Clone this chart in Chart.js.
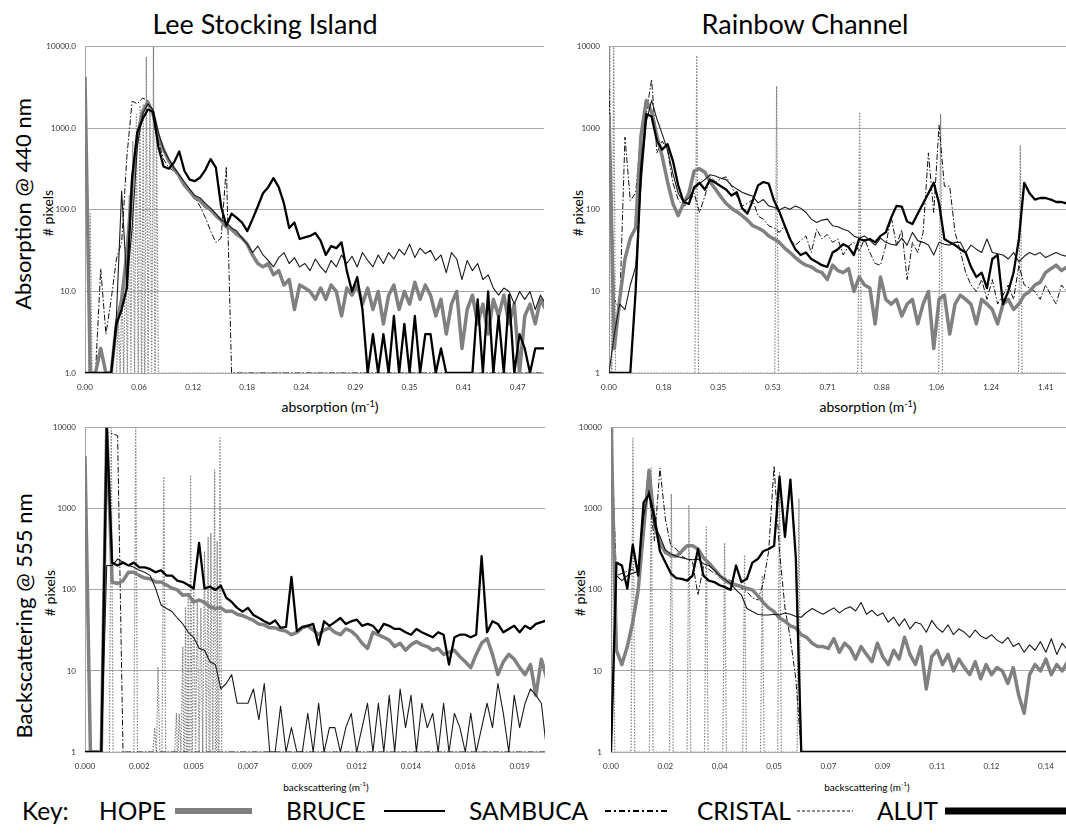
<!DOCTYPE html>
<html><head><meta charset="utf-8">
<script src="https://cdn.jsdelivr.net/npm/chart.js@4.4.1/dist/chart.umd.min.js"></script>
<style>
body{margin:0;background:#fff;width:1066px;height:833px;overflow:hidden;position:relative;font-family:Lato,"Open Sans",sans-serif;color:#000;}
.t{position:absolute;white-space:nowrap;line-height:1;}
.c{transform:translate(-50%,-50%);}
.r{transform:translate(-50%,-50%) rotate(-90deg);}
.k{font-size:24.5px;top:799px;}
canvas{position:absolute;}
sup{font-size:65%;vertical-align:top;position:relative;top:-0.1em;}
</style></head><body>
<div class="t c" style="left:265px;top:23px;font-size:27px">Lee Stocking Island</div>
<div class="t c" style="left:805px;top:23px;font-size:27px">Rainbow Channel</div>
<div class="t r" style="left:23px;top:204px;font-size:22px">Absorption @ 440 nm</div>
<div class="t r" style="left:24px;top:616px;font-size:22px">Backscattering @ 555 nm</div>
<div class="t r" style="left:48px;top:213px;font-size:14px"># pixels</div>
<div class="t r" style="left:578px;top:213px;font-size:14px"># pixels</div>
<div class="t r" style="left:50px;top:593px;font-size:14px"># pixels</div>
<div class="t r" style="left:580px;top:593px;font-size:14px"># pixels</div>
<div class="t c" style="left:330px;top:407px;font-size:14px">absorption (m<sup>-1</sup>)</div>
<div class="t c" style="left:868px;top:407px;font-size:14px">absorption (m<sup>-1</sup>)</div>
<div class="t c" style="left:326px;top:787px;font-size:10px">backscattering (m<sup>-1</sup>)</div>
<div class="t c" style="left:867px;top:787px;font-size:10px">backscattering (m<sup>-1</sup>)</div>

<div class="t k" style="left:22px">Key:</div>
<div class="t k" style="left:99px">HOPE</div>
<div class="t k" style="left:286px">BRUCE</div>
<div class="t k" style="left:469px">SAMBUCA</div>
<div class="t k" style="left:697px">CRISTAL</div>
<div class="t k" style="left:877px">ALUT</div>
<svg style="position:absolute;left:0;top:795px" width="1066" height="30">
<line x1="175" y1="16" x2="252" y2="16" stroke="#808080" stroke-width="6"/>
<line x1="384" y1="16" x2="445" y2="16" stroke="#000" stroke-width="2"/>
<line x1="605" y1="16" x2="670" y2="16" stroke="#000" stroke-width="2" stroke-dasharray="6,3,2,3"/>
<line x1="797" y1="16" x2="853" y2="16" stroke="#888" stroke-width="2" stroke-dasharray="3,2"/>
<line x1="945" y1="16" x2="1066" y2="16" stroke="#000" stroke-width="7"/>
</svg>

<canvas id="tl"></canvas>
<canvas id="tr"></canvas>
<canvas id="bl"></canvas>
<canvas id="br"></canvas>

<script>
// ---------- tick labels ----------
const yTicksTL = ['1.0','10.0','100.0','1000.0','10000.0'];
const yTicks = ['1','10','100','1000','10000'];
const yTickValues = [1,10,100,1000,10000];
const xTicksTL = ['0.00','0.06','0.12','0.18','0.24','0.29','0.35','0.41','0.47'];
const xTicksTR = ['0.00','0.18','0.35','0.53','0.71','0.88','1.06','1.24','1.41'];
const xTicksBL = ['0.000','0.002','0.005','0.007','0.009','0.012','0.014','0.016','0.019'];
const xTicksBR = ['0.00','0.02','0.04','0.05','0.07','0.09','0.11','0.12','0.14'];
const xTickBins = [0,30,60,90,120,150,180,210,240];

// ---------- Lee Stocking Island, absorption (bin step 2.904) ----------
const tlHope = [4300,1,1,2,1,1,4,8,30,200, 800,1600,2100,1500,800,550,400,320,260,200,
 170,140,130,110,100,85,75,62,58,50, 45,38,28,22,20,22,16,18,12,14,
 6,12,11,10,8,11,8,12,10,5, 11,9,12,7,11,6,10,4,9,12,
 6,10,7,13,8,12,9,5,8,3, 7,10,2,6,9,4,7,3,8,5, 9,4,7,1,5,7,4,8,6];
const tlBruce = [1,1,1,1,1,1,5,170,12,60, 600,1500,2000,1700,900,550,420,330,270,220,
 180,150,140,120,105,90,75,70,60,55, 45,38,30,36,28,24,20,26,30,22,
 26,20,22,18,25,20,17,24,20,28, 22,27,20,30,24,20,28,22,30,25,
 33,28,38,26,34,29,32,24,28,17, 30,25,14,24,18,22,14,16,11,9, 11,10,7,10,8,10,6,9,7];
const tlAlut = [1,1,1,1,1,1,4,6,11,250, 900,1300,1700,1600,600,340,320,380,520,300,
 235,225,250,310,420,330,110,64,90,80, 70,55,77,110,160,190,245,190,120,60,
 70,44,46,48,52,42,28,36,34,40, 18,10,15,6,1,3,1,3,1,5,
 1,4,1,5,1,3,3,1,2,1, 1,1,1,1,1,8,1,10,1,5, 1,9,1,3,2,1,2,2,2];
const tlSambuca = [1,1,1,19,3,8,25,40,450,2150, 2000,2350,2200,1500,700,420,330,300,250,200,
 160,140,110,80,55,40,45,340,1,1, 1,1,1,1,1,1,1,1,1,1,
 1,1,1,1,1,1,1,1,1,1, 1,1,1,1,1,1,1,1,1,1,
 1,1,1,1,1,1,1,1,1,1, 1,1,1,1,1,1,1,1,1,1, 1,1,1,1,1,1,1,1,1];
const tlCristalBins = [2.9,18.5,20.5,22.5,24.5,26.5,28.5,30.5,32.3,34,36,38,39.7];
const tlCristalPeaks = [90,5,10,35,150,700,1500,1900,2000,7500,2000,10000,1200];

// ---------- Rainbow Channel, absorption (bin step 2.925) ----------
const trHope = [1500,2,8,25,45,60,800,2200,1600,800, 450,220,120,85,120,160,300,320,290,220,
 180,145,120,105,95,85,75,64,60,55, 48,44,40,34,30,26,23,21,20,18,
 17,14,21,18,17,19,10,15,12,11, 4,15,8,7,8,5,7,8,4,7,
 10,2,8,9,3,7,9,8,7,4, 8,7,6,4,7,8,6,7,9,10, 12,13,17,19,21,18,20];
const trBruce = [1,3,7,6,12,20,200,1200,2200,1300, 850,540,280,160,125,140,180,210,235,270,
 260,245,235,200,180,165,155,147,122,134, 112,108,100,108,102,112,105,93,77,70,
 75,77,64,62,58,55,48,45,48,42, 37,45,40,38,37,45,37,53,42,40,
 37,28,40,38,37,40,40,30,37,33, 30,44,30,29,28,25,30,23,27,30, 28,30,26,28,30,28,27];
const trAlut = [1,1,1,1,1,10,300,1500,1400,700, 550,640,400,200,125,118,190,215,178,235,
 215,195,178,150,165,105,90,130,200,220, 210,130,95,64,44,33,28,30,25,23,
 21,20,30,33,38,35,28,44,42,44, 40,48,53,80,112,110,72,67,90,120,
 160,215,120,44,40,37,33,30,20,15, 17,11,25,28,7,10,17,44,215,160, 134,140,140,134,125,125,120];
const trSambuca = [3000,8,6,780,130,160,850,1500,4000,500, 700,540,215,134,110,122,160,93,147,255,
 220,240,255,195,147,112,120,134,84,77, 64,60,53,64,44,37,42,48,30,58,
 44,50,40,44,28,36,40,31,44,30, 22,21,37,83,37,57,14,40,30,53,
 500,93,1100,195,195,53,31,17,12,10, 14,8,14,7,9,12,8,21,12,11, 10,8,12,9,7,12,10];
const trCristalBins = [0.4,2.6,48.2,92.1,137.7,182.2,226];
const trCristalPeaks = [10000,10000,7800,3300,1600,1500,620];

// ---------- Lee Stocking Island, backscattering (bin step 3) ----------
const blHope = [4450,1,1,1,10000,125,120,130,165,165, 150,140,137,125,125,115,105,100,86,88,
 71,75,70,62,59,60,54,55,50,48, 45,42,38,37,34,34,32,31,28,30,
 34,36,32,28,32,34,30,28,33,31, 27,22,19,30,28,26,24,20,22,18,
 21,23,21,20,18,19,16,17,18,15, 13,11,16,22,25,16,9,13,16,14, 11,9,12,5,14,8];
const blBruce = [1,1,1,1,200,200,240,220,200,190, 175,165,150,104,65,59,54,45,38,30,
 26,19,18,13,12,6,7,9,4,4, 4,6,2.5,7,1,1,3.7,1,2,1,
 1,3,1,4,1,2,2,1,2,3, 1,2,4,1,4,1,5,1,6,2,
 5,1,4,2,3,1,4,1,3,2, 1,3,1,2,4,2,7,3,1,5, 2,4,6,5,4,1];
const blAlut = [1,1,1,1,10000,217,200,217,200,217, 190,190,180,165,175,150,150,130,125,115,
 104,380,104,110,100,113,80,71,60,54, 60,49,45,41,38,42,34,35,145,31,
 35,36,38,21,41,36,40,45,38,41, 43,36,38,36,30,38,36,33,33,30,
 28,33,30,28,26,30,28,12,26,28, 28,26,28,260,30,41,38,30,33,36, 30,36,33,38,40,42];
const blSambuca = [1,1,1,1,9000,8500,8000,1,1,1, 1,1,1,1,1,1,1,1,1,1,
 1,1,1,1,1,1,1,1,1,1, 1,1,1,1,1,1,1,1,1,1,
 1,1,1,1,1,1,1,1,1,1, 1,1,1,1,1,1,1,1,1,1,
 1,1,1,1,1,1,1,1,1,1, 1,1,1,1,1,1,1,1,1,1, 1,1,1,1,1,1];
const blCristalBins = [14.5,28,38.5,40.3,43.5,50.5,52,54,55.5,57,58.3,60,62,64,66,68,69.5,71.6,73,74.5];
const blCristalPeaks = [10000,10000,2,11,2500,3,3,20,60,90,2600,100,70,60,300,450,500,3000,400,7500];

// ---------- Rainbow Channel, backscattering (bin step 3) ----------
const brHope = [10000,18,12,20,40,100,550,3000,650,380, 290,265,260,300,350,350,320,250,215,180,
 150,130,120,115,110,104,100,85,70,60, 54,45,41,36,34,28,26,22,20,20,
 19,25,17,22,19,14,20,16,13,22, 15,12,18,14,26,16,12,20,6,15,
 18,12,16,10,14,11,9,13,8,12, 9,11,10,7,11,5,3,9,12,10, 14,9,12,10,13];
const brBruce = [1,150,130,150,160,170,800,1700,600,460, 310,280,260,250,240,235,240,210,200,175,
 150,135,120,100,86,59,54,50,49,49, 50,49,52,50,47,46,53,59,54,50,
 55,60,52,58,62,55,70,50,56,48, 52,40,46,36,44,33,40,38,30,42,
 34,30,37,28,33,30,26,32,27,25, 28,24,22,26,20,22,17,21,18,23, 17,25,16,22,18];
const brAlut = [1,217,200,104,360,150,1200,1500,800,300, 220,160,140,137,130,150,320,150,130,125,
 114,108,100,200,125,137,217,240,300,320, 350,2500,450,2300,250,1,1,1,1,1,
 1,1,1,1,1,1,1,1,1,1, 1,1,1,1,1,1,1,1,1,1,
 1,1,1,1,1,1,1,1,1,1, 1,1,1,1,1,1,1,1,1,1, 1,1,1,1,1];
const brSambuca = [10000,150,160,170,180,150,1200,1500,400,3200, 750,350,320,260,240,220,86,195,180,160,
 150,140,130,120,104,95,80,75,120,300, 3400,300,60,25,8,1,1,1,1,1,
 1,1,1,1,1,1,1,1,1,1, 1,1,1,1,1,1,1,1,1,1,
 1,1,1,1,1,1,1,1,1,1, 1,1,1,1,1,1,1,1,1,1, 1,1,1,1,1];
const brCristalBins = [1,12.1,22.2,33.3,43,52.6,62.7,73.7,83.5,93,103.7];
const brCristalPeaks = [10000,7400,3200,1530,1100,600,380,270,150,2800,1320];

// ---------- builders ----------
function dense(arr, step){ return arr.map((v,i)=>({x:i*step, y:v})); }
function spikes(bins, peaks, xMax){
  const w = 1.0, pts=[{x:0,y:1}];
  bins.forEach((b,k)=>{ pts.push({x:b-w,y:1},{x:b,y:peaks[k]},{x:b+w,y:1}); });
  pts.push({x:xMax,y:1});
  pts.sort((a,b)=>a.x-b.x);
  return pts;
}
const common = {pointRadius:0, tension:0, fill:false, borderJoinStyle:'round', borderCapStyle:'butt'};

function panel(id, area, p){
  const Wy = 46, Hx = 26, padT = 8, padR = 2;
  const cv = document.getElementById(id);
  cv.width = Wy + area.w + padR; cv.height = padT + area.h + Hx;
  cv.style.left = (area.l - Wy) + 'px'; cv.style.top = (area.t - padT) + 'px';
  const ds = [
    Object.assign({label:'ALUT', data:dense(p.alut,p.step), borderColor:'#000', borderWidth:2.3, order:1}, common),
    Object.assign({label:'BRUCE', data:dense(p.bruce,p.step), borderColor:'#1a1a1a', borderWidth:1.1, order:2}, common),
    Object.assign({label:'HOPE', data:dense(p.hope,p.step), borderColor:'#808080', borderWidth:3.5, order:3}, common),
    Object.assign({label:'SAMBUCA', data:dense(p.sambuca,p.step), borderColor:'#111', borderWidth:1, borderDash:[6,2,1.5,2], order:4}, common),
    Object.assign({label:'CRISTAL', data:spikes(p.cBins,p.cPeaks,p.xMax), borderColor:'#808080', borderWidth:1.2, borderDash:[1.5,1.5], order:5}, common)
  ];
  const chart = new Chart(cv, {
    type:'line',
    data:{datasets:ds},
    options:{
      responsive:false, maintainAspectRatio:false, animation:false, devicePixelRatio:1,
      layout:{padding:{top:padT, right:padR, left:0, bottom:0}},
      plugins:{legend:{display:false}, tooltip:{enabled:false}},
      scales:{
        x:{type:'linear', min:0, max:p.xMax,
           grid:{display:false, drawTicks:false}, border:{display:false},
           afterBuildTicks(s){ s.ticks = xTickBins.map(v=>({value:v})); },
           afterFit(s){ s.height = Hx; },
           ticks:{autoSkip:false, maxRotation:0, padding:10, color:'#333', font:{family:'Lato', size:8},
                  callback:(v,i)=>p.xLabels[i]}},
        y:{type:'logarithmic', min:1, max:10000,
           grid:{color:'#a8a8a8', lineWidth:1, drawTicks:false},
           border:{display:true, color:'#a8a8a8', width:1},
           afterBuildTicks(s){ s.ticks = yTickValues.map(v=>({value:v})); },
           afterFit(s){ s.width = Wy; },
           ticks:{padding:9, color:'#333', font:{family:'Lato', size:8},
                  callback:(v,i)=>p.yLabels[i]}}
      }
    }
  });
  const ca = chart.chartArea;
  cv.style.left = (area.l - ca.left) + 'px';
  cv.style.top = (area.t - ca.top) + 'px';
  return chart;
}

panel('tl', {l:85, t:47, w:459, h:332}, {step:2.904, xMax:254.6, xLabels:xTicksTL, yLabels:yTicksTL,
  hope:tlHope, bruce:tlBruce, alut:tlAlut, sambuca:tlSambuca, cBins:tlCristalBins, cPeaks:tlCristalPeaks});
panel('tr', {l:609, t:47, w:457, h:332}, {step:2.925, xMax:251.1, xLabels:xTicksTR, yLabels:yTicks,
  hope:trHope, bruce:trBruce, alut:trAlut, sambuca:trSambuca, cBins:trCristalBins, cPeaks:trCristalPeaks});
panel('bl', {l:85, t:428, w:460, h:330}, {step:3, xMax:254, xLabels:xTicksBL, yLabels:yTicks,
  hope:blHope, bruce:blBruce, alut:blAlut, sambuca:blSambuca, cBins:blCristalBins, cPeaks:blCristalPeaks});
panel('br', {l:611, t:428, w:455, h:330}, {step:3, xMax:251.1, xLabels:xTicksBR, yLabels:yTicks,
  hope:brHope, bruce:brBruce, alut:brAlut, sambuca:brSambuca, cBins:brCristalBins, cPeaks:brCristalPeaks});
</script>
</body></html>
